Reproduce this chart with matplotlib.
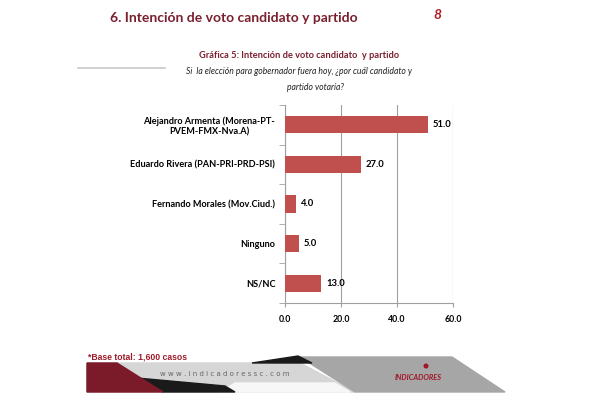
import matplotlib.pyplot as plt
from matplotlib.patches import Polygon, Circle

# Datos de la gráfica
candidatos = ["Alejandro Armenta (Morena-PT-\nPVEM-FMX-Nva.A)",
              "Eduardo Rivera (PAN-PRI-PRD-PSI)",
              "Fernando Morales (Mov.Ciud.)",
              "Ninguno",
              "NS/NC"]
porcentajes = [51.0, 27.0, 4.0, 5.0, 13.0]
ticks_x = [0, 20, 40, 60]

plt.rcParams['font.family'] = ['Lato', 'DejaVu Sans']
granate = "#7a1f2e"
rojo_barra = "#c0504d"

fig = plt.figure(figsize=(6, 4), dpi=100)
fig.patch.set_facecolor("white")

def px(x, y):
    return x / 600, 1 - y / 400

# Títulos
fig.text(*px(110, 18), "6. Intención de voto candidato y partido", fontsize=10,
         fontweight="bold", color=granate, va="center", ha="left")
fig.text(*px(437, 15), "8", fontsize=10, fontweight="bold", color="#b0202a",
         va="center", ha="center", style="italic")
fig.text(*px(299, 55), "Gráfica 5: Intención de voto candidato  y partido", fontsize=6.7,
         fontweight="bold", color=granate, va="center", ha="center")
fig.text(*px(299, 72), "Si  la elección para gobernador fuera hoy, ¿por cuál candidato y",
         fontsize=6.2, style="italic", color="#222222", va="center", ha="center")
fig.text(*px(316, 87), "partido votaría?", fontsize=6.2, style="italic",
         color="#222222", va="center", ha="center")
fig.add_artist(plt.Line2D([78 / 600, 165 / 600], [1 - 68 / 400] * 2,
                          color="#c8c8c8", lw=1.2))

# Gráfica de barras
ax = fig.add_axes([285 / 600, 1 - 303 / 400, 168 / 600, 198 / 400])
y = list(range(len(candidatos)))
ax.barh(y, porcentajes, height=0.43, color=rojo_barra, zorder=3)
ax.set_ylim(len(candidatos) - 0.5, -0.5)
ax.set_xlim(0, 60)
ax.set_xticks(ticks_x)
ax.set_xticklabels([f"{t:.1f}" for t in ticks_x], fontsize=6.3, fontweight="bold")
ax.set_yticks(y)
ax.set_yticklabels(candidatos, fontsize=6.6, fontweight="bold")
ax.set_yticks([i - 0.5 for i in range(len(candidatos) + 1)], minor=True)
ax.tick_params(axis="y", which="major", length=0, pad=7)
ax.tick_params(axis="y", which="minor", length=4, color="#a0a0a0")
ax.tick_params(axis="x", length=3, color="#a0a0a0", pad=6)
for lbl in ax.get_yticklabels():
    lbl.set_multialignment("center")
ax.grid(axis="x", color="#a0a0a0", lw=0.8, zorder=0)
for s in ["top", "right"]:
    ax.spines[s].set_visible(False)
for s in ["left", "bottom"]:
    ax.spines[s].set_color("#a0a0a0")
for yi, v in zip(y, porcentajes):
    ax.text(v + 1.8, yi, f"{v:.1f}", va="center", ha="left", fontsize=6.8,
            fontweight="bold")

# Pie de página (banda decorativa)
fig.text(*px(88, 357), "*Base total: 1,600 casos", fontsize=6.2, fontweight="bold",
         color="#9b1b2a", va="center", ha="left", family=["Liberation Sans"])
fond = fig.add_axes([0, 0, 1, 1], zorder=-1)
fond.set_xlim(0, 600)
fond.set_ylim(400, 0)
fond.axis("off")
fond.add_patch(Polygon([(87, 363), (300, 363), (355, 392), (87, 392)],
                       color="#d6d6d6"))
fond.add_patch(Polygon([(220, 392), (350, 392), (335, 383), (235, 383)],
                       color="#f7f7f7"))
fond.add_patch(Polygon([(300, 357), (452, 357), (505, 392), (355, 392)],
                       color="#a6a6a6"))
fond.add_patch(Polygon([(252, 363), (298, 356), (312, 363)], color="#1a1a1a"))
fond.add_patch(Polygon([(137, 378), (225, 386), (235, 392), (163, 392)],
                       color="#1a1a1a"))
fond.add_patch(Polygon([(87, 363), (117, 363), (163, 392), (87, 392)],
                       color="#7b1a28"))
fond.text(225, 374, "w w w . i n d i c a d o r e s s c . c o m", fontsize=5,
          color="#666666", va="center", ha="center", family=["DejaVu Sans"])
fond.add_patch(Circle((426, 366), 1.8, color="#a01828"))
fond.text(418, 378, "INDICADORES", fontsize=5.3, fontweight="bold", style="italic",
          color="#a01828", va="center", ha="center")

fig.savefig("out.png", dpi=100)
